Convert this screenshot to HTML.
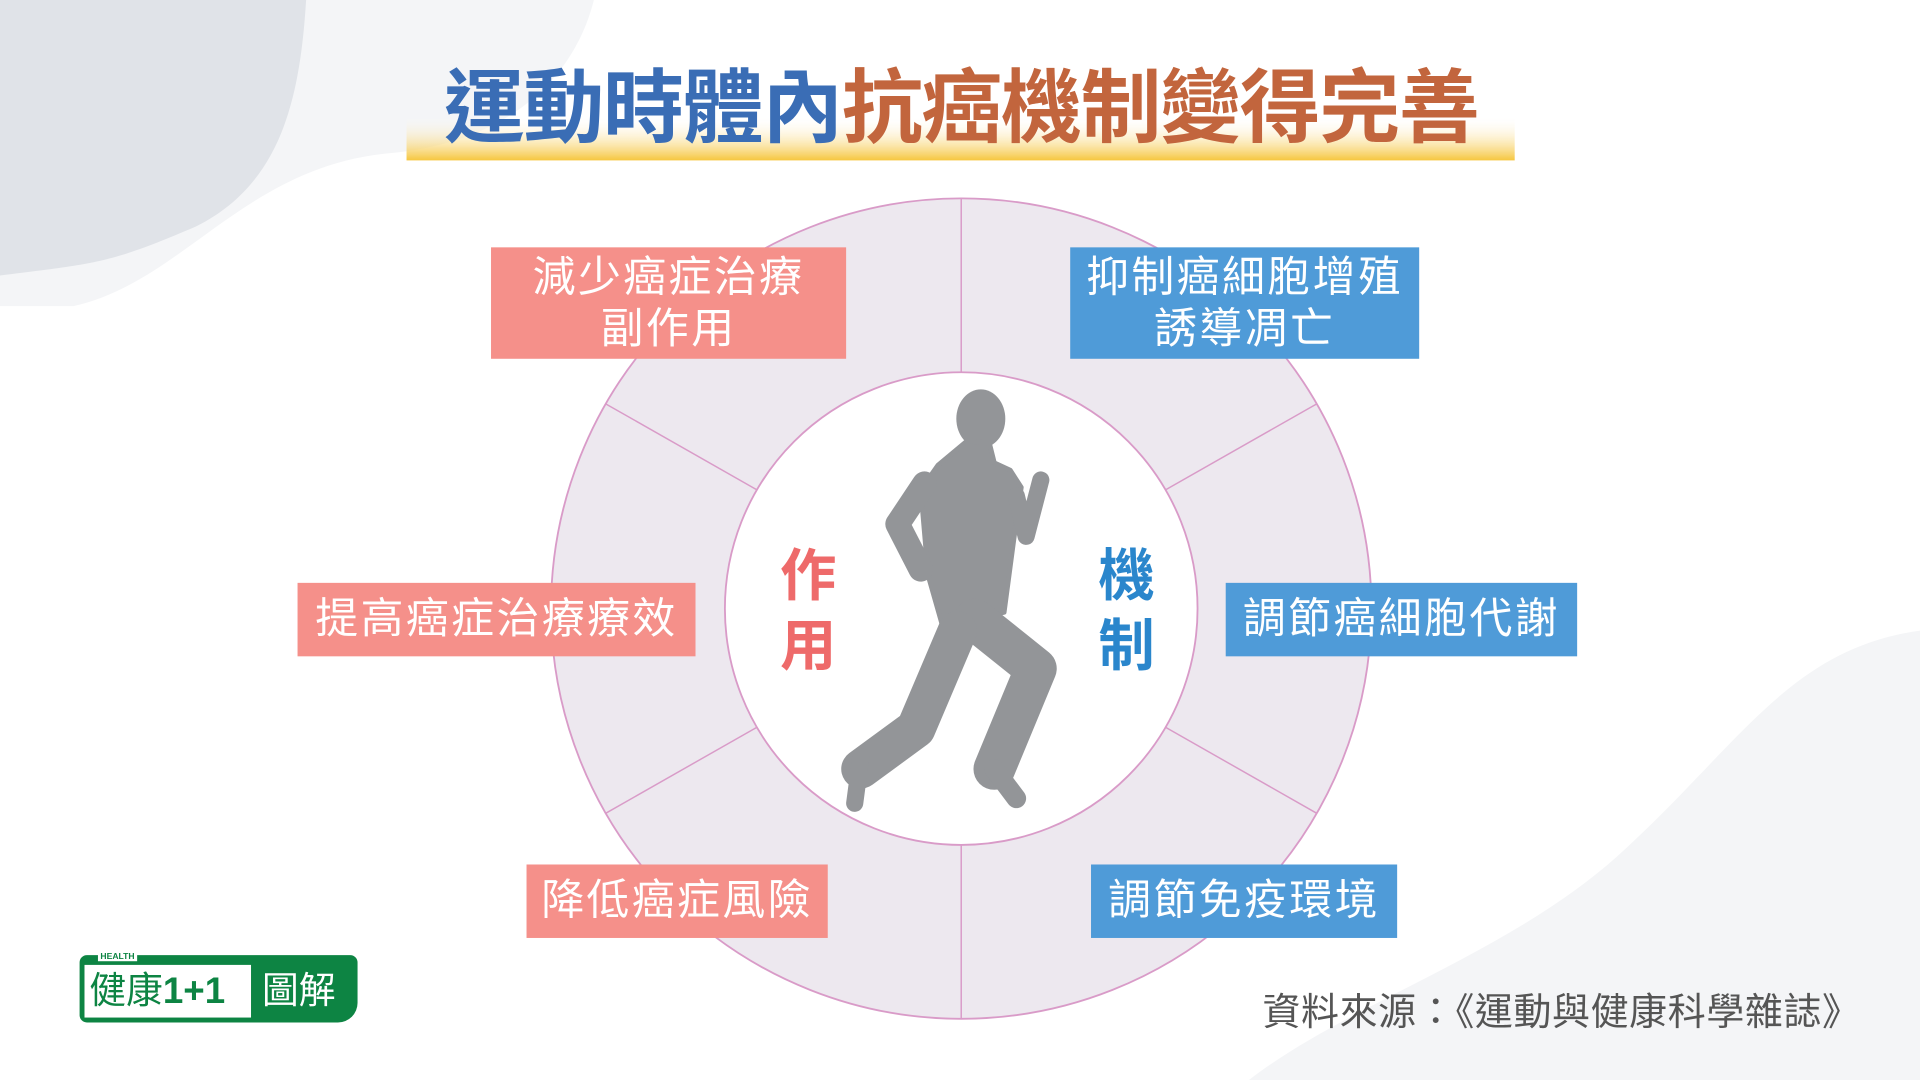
<!DOCTYPE html>
<html><head><meta charset="utf-8"><style>
html,body{margin:0;padding:0;width:1920px;height:1080px;overflow:hidden;background:#fff}
#w{position:absolute;left:0;top:0;width:1568px;height:882px;transform:scale(1.22449);transform-origin:0 0;font-family:"Liberation Sans","Noto Sans CJK TC",sans-serif}
.b{position:absolute;color:#fff;font-size:35px;text-align:center;display:flex;align-items:center;justify-content:center;line-height:42px;letter-spacing:2px}
.p{background:#f5908a}.q{background:#4f9bd8}
.c{position:absolute;font-size:46px;font-weight:bold;line-height:57px}
</style></head><body><div id="w">
<svg width="1568" height="882" style="position:absolute;left:0;top:0">
<defs><linearGradient id="g" x1="0" y1="0" x2="0" y2="1"><stop offset="0" stop-color="#fff" stop-opacity="0"/><stop offset="1" stop-color="#f6c63e"/></linearGradient></defs>
<path d="M0 0H485C470 60 420 115 320 125C200 135 150 230 60 250H0Z" fill="#f4f5f7"/>
<path d="M0 0H250C245 80 230 150 160 185C90 215 80 215 0 225Z" fill="#e0e3e8"/>
<path d="M1020 882C1100 820 1230 780 1320 700C1420 610 1460 530 1568 515V882Z" fill="#f4f5f7"/>
<rect x="332" y="95" width="905" height="36" fill="url(#g)"/>
<circle cx="785" cy="497" r="335" fill="#ede8ef" stroke="#d99bc8" stroke-width="1.5"/>
<g stroke="#d99bc8" stroke-width="1.2">
<line x1="785" y1="162" x2="785" y2="304"/><line x1="785" y1="690" x2="785" y2="832"/>
<line x1="495" y1="330" x2="618" y2="400"/><line x1="1075" y1="330" x2="952" y2="400"/>
<line x1="495" y1="664" x2="618" y2="594"/><line x1="1075" y1="664" x2="952" y2="594"/>
</g>
<circle cx="785" cy="497" r="193" fill="#fff" stroke="#d99bc8" stroke-width="1.5"/>
<g fill="#939598" stroke="#939598" stroke-linecap="round" stroke-linejoin="round">
<ellipse cx="801" cy="342" rx="20" ry="24" stroke="none"/>
<path d="M790 360L808 362L812 378L825 384L834 398L828 440L820 500L770 512L758 470L752 400L766 380Z" stroke-width="4"/>
<polyline points="755,395 733,428 752,465" fill="none" stroke-width="20"/>
<polyline points="830,405 838,438 850,392" fill="none" stroke-width="14"/>
<polyline points="796,506 846,546 812,628" fill="none" stroke-width="34"/>
<polyline points="812,628 830,652" fill="none" stroke-width="16"/>
<polyline points="782,515 748,595 703,628" fill="none" stroke-width="32"/>
<polyline points="703,618 698,656" fill="none" stroke-width="14"/>
</g>
</svg>
<div style="position:absolute;left:330px;top:48px;width:910px;text-align:center;font-size:66px;font-weight:bold;line-height:80px;letter-spacing:-1px;white-space:nowrap"><span style="color:#3a6db5">運動時體內</span><span style="color:#c2653d">抗癌機制變得完善</span></div>
<div class="b p" style="left:401px;top:202px;width:290px;height:91px">減少癌症治療<br>副作用</div>
<div class="b q" style="left:874px;top:202px;width:285px;height:91px">抑制癌細胞增殖<br>誘導凋亡</div>
<div class="b p" style="left:243px;top:476px;width:325px;height:60px">提高癌症治療療效</div>
<div class="b q" style="left:1001px;top:476px;width:287px;height:60px">調節癌細胞代謝</div>
<div class="b p" style="left:430px;top:706px;width:246px;height:60px">降低癌症風險</div>
<div class="b q" style="left:891px;top:706px;width:250px;height:60px">調節免疫環境</div>
<div class="c" style="left:637px;top:442px;color:#ee6a6a">作<br>用</div>
<div class="c" style="left:897px;top:442px;color:#2a86cc">機<br>制</div>
<div style="position:absolute;left:1031px;top:801px;font-size:31px;color:#555;white-space:nowrap;letter-spacing:0.5px">資料來源：《運動與健康科學雜誌》</div>
<div style="position:absolute;left:65px;top:780px;width:227px;height:55px;background:#0d8443;border-radius:6px 6px 16px 6px"></div>
<div style="position:absolute;left:69px;top:788px;width:136px;height:43px;background:#fff"></div>
<div style="position:absolute;left:80px;top:778px;font-size:7px;font-weight:bold;color:#0d8443;background:#fff;padding:0 2px">HEALTH</div>
<div style="position:absolute;left:73px;top:788px;font-size:30px;line-height:43px;color:#0d8443;white-space:nowrap">健康<b>1+1</b></div>
<div style="position:absolute;left:214px;top:788px;font-size:30px;line-height:43px;color:#fff;white-space:nowrap">圖解</div>
</div></body></html>
